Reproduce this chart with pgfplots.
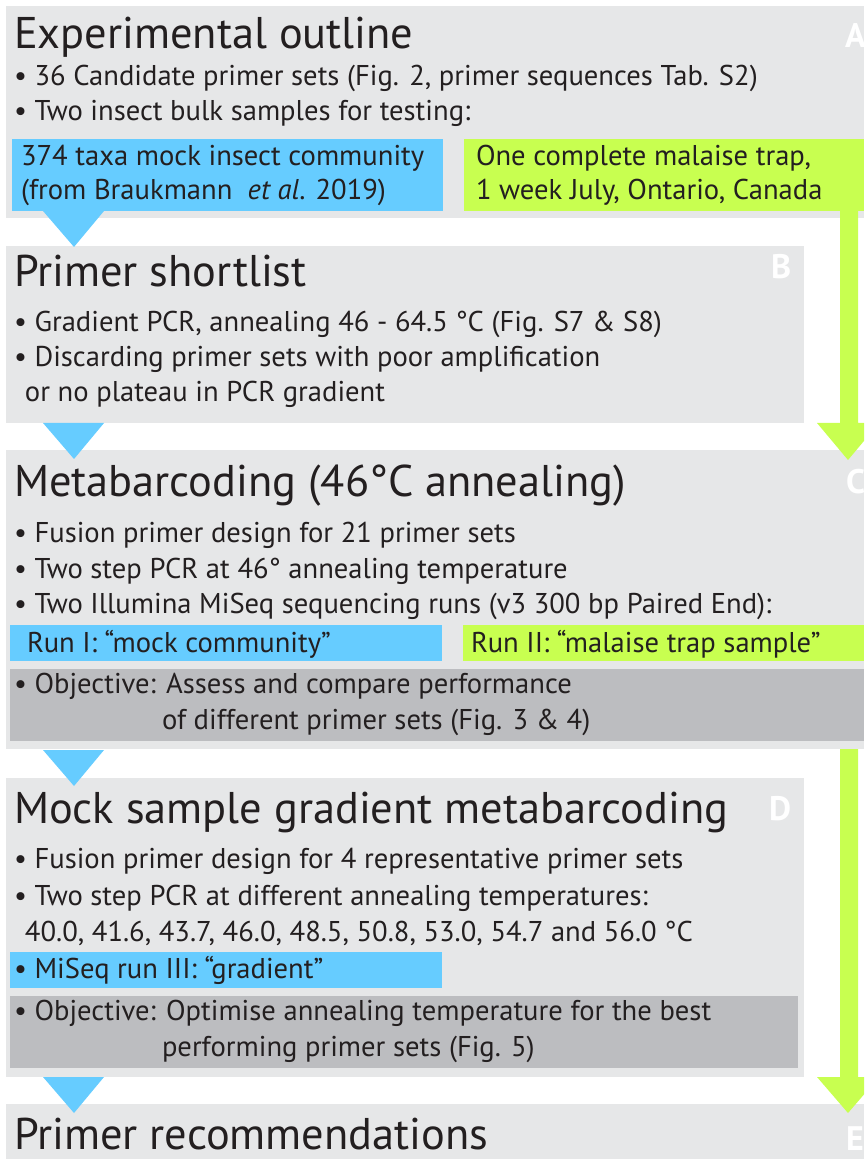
\documentclass[border=0pt]{standalone}
\usepackage{pgfplots}
\pgfplotsset{compat=1.18}
\usepackage{fontspec}
\setmainfont{PT Sans}

\definecolor{boxgray}{HTML}{E6E7E8}
\definecolor{objgray}{HTML}{BCBDC0}
\definecolor{skyblue}{HTML}{66CCFF}
\definecolor{lime}{HTML}{C8FF50}
\definecolor{ink}{HTML}{231F20}

% rectangle / polygon helpers, pixel coords of the 864x1159 reference (y down)
\newcommand{\rect}[5]{\addplot[fill=#5, draw=none] coordinates {(#1,#2) (#3,#2) (#3,#4) (#1,#4)} -- cycle;}
\newcommand{\tri}[1]{\addplot[fill=skyblue, draw=none] coordinates {(43,#1) (104,#1) (74,\the\numexpr#1+36\relax)} -- cycle;}

\newcommand{\ttl}{\fontsize{22.2}{26}\selectfont}
\newcommand{\bdy}{\fontsize{14.3}{17}\selectfont}
\newcommand{\lett}{\fontsize{17}{20}\selectfont\bfseries}

\tikzset{
    txt/.style={anchor=base west, inner sep=0pt, outer sep=0pt, text=ink, font=\bdy},
    hd/.style={txt, font=\ttl},
    lt/.style={anchor=base west, inner sep=0pt, outer sep=0pt, text=white, font=\lett},
}

\begin{document}
\begin{tikzpicture}
\begin{axis}[
    name=ax,
    width=432pt, height=579.5pt,
    scale only axis,
    hide axis,
    xmin=0, xmax=864,
    ymin=0, ymax=1159,
    y dir=reverse,
]
% panels
\rect{6}{6}{864}{218}{boxgray}
\rect{6}{246}{804}{423}{boxgray}
\rect{6}{450}{864}{749}{boxgray}
\rect{6}{778}{804}{1077}{boxgray}
\rect{6}{1104}{864}{1159}{boxgray}
% coloured sample boxes
\rect{12}{139}{443}{211}{skyblue}
\rect{464}{139}{864}{211}{lime}
\rect{10}{625}{442}{661}{skyblue}
\rect{463}{625}{864}{661}{lime}
\rect{10}{669}{864}{741}{objgray}
\rect{10}{952}{442}{988}{skyblue}
\rect{10}{996}{798}{1068}{objgray}
% blue arrow heads
\tri{211}
\tri{423}
\tri{750}
\tri{1077}
% green arrows
\addplot[fill=lime, draw=none] coordinates {(840,211) (858,211) (858,423) (879,423) (848,460) (817,423) (840,423)} -- cycle;
\addplot[fill=lime, draw=none] coordinates {(840,749) (858,749) (858,1077) (879,1077) (848,1113) (817,1077) (840,1077)} -- cycle;

% panel letters
\node[lt] at (axis cs:845,48) {A};
\node[lt] at (axis cs:771,279) {B};
\node[lt] at (axis cs:846,494) {C};
\node[lt] at (axis cs:769,820) {D};
\node[lt] at (axis cs:846,1150) {E};

% A
\node[hd] at (axis cs:14,49) {Experimental outline};
\node[txt] at (axis cs:14,86) {• 36 Candidate primer sets (Fig. 2, primer sequences Tab. S2)};
\node[txt] at (axis cs:14,121) {• Two insect bulk samples for testing:};
\node[txt] at (axis cs:21,166) {374 taxa mock insect community};
\node[txt] at (axis cs:21,200) {(from Braukmann\ \ \textit{et al}. 2019)};
\node[txt] at (axis cs:476,166) {One complete malaise trap,};
\node[txt] at (axis cs:476,200) {1 week July, Ontario, Canada};

% B
\node[hd] at (axis cs:14,287) {Primer shortlist};
\node[txt] at (axis cs:14,332) {• Gradient PCR, annealing 46 - 64.5 °C (Fig. S7 \& S8)};
\node[txt] at (axis cs:14,367) {• Discarding primer sets with poor amplification};
\node[txt] at (axis cs:25,402) {or no plateau in PCR gradient};

% C
\node[hd] at (axis cs:14,496) {Metabarcoding (46°C annealing)};
\node[txt] at (axis cs:14,542) {• Fusion primer design for 21 primer sets};
\node[txt] at (axis cs:14,578) {• Two step PCR at 46° annealing temperature};
\node[txt] at (axis cs:14,613) {• Two Illumina MiSeq sequencing runs (v3 300 bp Paired End):};
\node[txt] at (axis cs:27,652) {Run I: “mock community”};
\node[txt] at (axis cs:471,652) {Run II: “malaise trap sample”};
\node[txt] at (axis cs:14,693) {• Objective: Assess and compare performance};
\node[txt] at (axis cs:162,729) {of different primer sets (Fig. 3 \& 4)};

% D
\node[hd] at (axis cs:14,823) {Mock sample gradient metabarcoding};
\node[txt] at (axis cs:14,868) {• Fusion primer design for 4 representative primer sets};
\node[txt] at (axis cs:14,905) {• Two step PCR at different annealing temperatures:};
\node[txt] at (axis cs:25,941) {40.0, 41.6, 43.7, 46.0, 48.5, 50.8, 53.0, 54.7 and 56.0 °C};
\node[txt] at (axis cs:14,978) {• MiSeq run III: “gradient”};
\node[txt] at (axis cs:14,1020) {• Objective: Optimise annealing temperature for the best};
\node[txt] at (axis cs:162,1056) {performing primer sets (Fig. 5)};

% E
\node[hd] at (axis cs:14,1149) {Primer recommendations};
\end{axis}
\pgfresetboundingbox
\useasboundingbox (ax.south west) rectangle (ax.north east);
\end{tikzpicture}
\end{document}
